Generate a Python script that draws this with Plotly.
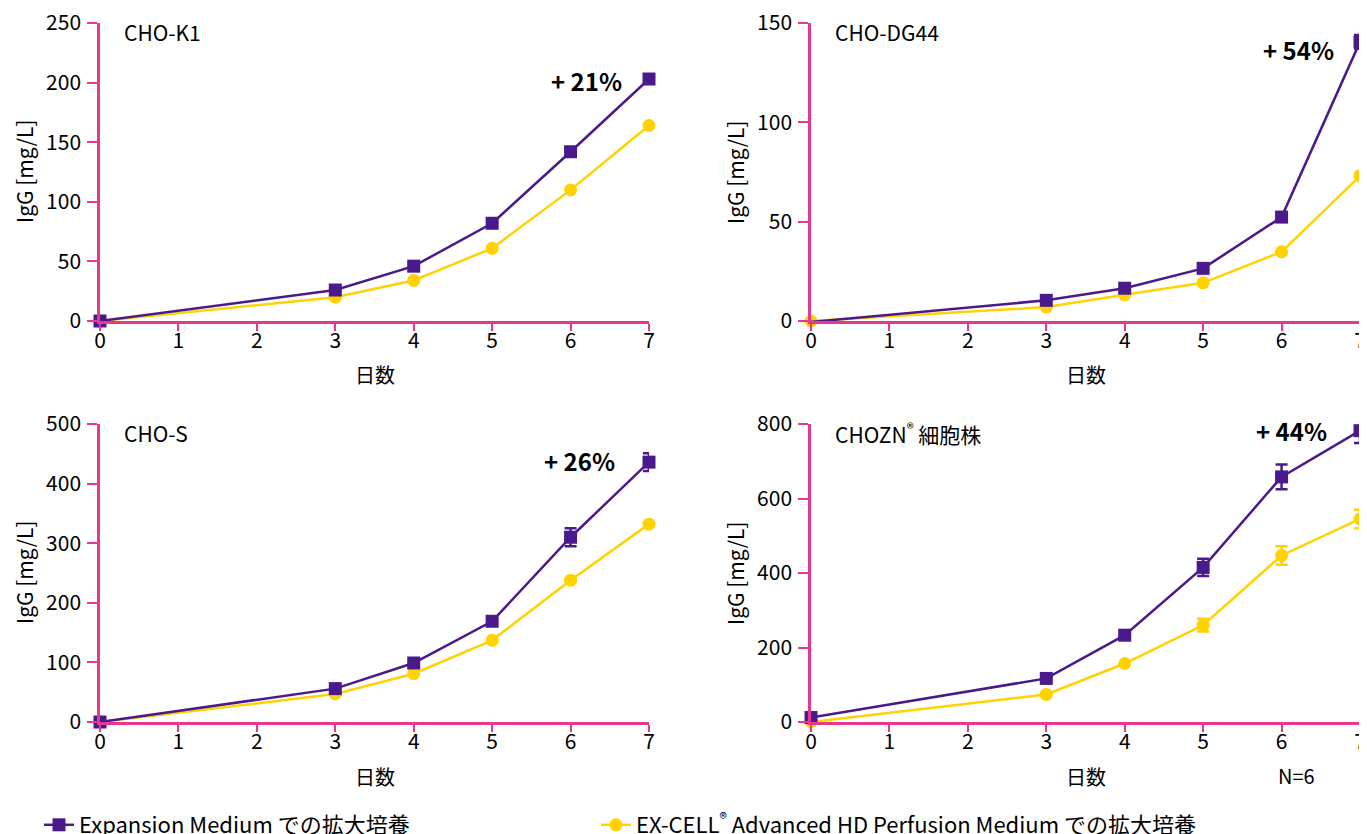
import plotly.graph_objects as go

days = [0, 3, 4, 5, 6, 7]
x_ticks = [0, 1, 2, 3, 4, 5, 6, 7]

panel_titles = ["CHO-K1", "CHO-DG44", "CHO-S", "CHOZN<sup>®</sup> 細胞株"]
gain_labels = ["+ 21%", "+ 54%", "+ 26%", "+ 44%"]

k1_expansion = [0, 26, 46, 82, 142, 203]
k1_excell = [0, 20, 34, 61, 110, 164]
k1_expansion_err = [0, 0, 0, 0, 0, 0]
k1_excell_err = [0, 0, 0, 0, 0, 0]

dg44_expansion = [-0.5, 10.4, 16.5, 26.5, 52.3, 140.5]
dg44_excell = [0, 7, 13.2, 19.2, 34.8, 73]
dg44_expansion_err = [0, 0, 0, 0, 0, 3.5]
dg44_excell_err = [0, 0, 0, 0, 0, 0]

chos_expansion = [0, 56, 99, 169, 310, 436]
chos_excell = [0, 47, 81, 137, 238, 332]
chos_expansion_err = [0, 0, 0, 0, 15, 15]
chos_excell_err = [0, 0, 0, 0, 0, 0]

chozn_expansion = [12, 117, 233, 415, 658, 782]
chozn_excell = [0, 74, 157, 260, 447, 545]
chozn_expansion_err = [0, 0, 0, 23, 33, 33]
chozn_excell_err = [0, 0, 0, 17, 25, 25]

y_ranges = [[0, 250], [0, 150], [0, 500], [0, 800]]
y_dticks = [50, 50, 100, 200]

legend_names = ["Expansion Medium での拡大培養",
                "EX-CELL<sup>®</sup> Advanced HD Perfusion Medium での拡大培養"]

PURPLE = "#4a1a8c"
YELLOW = "#ffd200"
PINK = "#e8378e"
FONT = "Noto Sans CJK JP"

W, H = 1367, 834
OFF = 8  # page body margin


def px(xs):
    return (xs - OFF) / W


def py(ys):
    return 1 - (ys - OFF) / H


# plot-area geometry in screen pixels (left, right, top, bottom)
areas = [
    (100, 649, 23, 321),
    (811, 1360, 23, 321),
    (100, 649, 424, 722),
    (811, 1360, 424, 722),
]

panels = [
    (k1_expansion, k1_expansion_err, k1_excell, k1_excell_err),
    (dg44_expansion, dg44_expansion_err, dg44_excell, dg44_excell_err),
    (chos_expansion, chos_expansion_err, chos_excell, chos_excell_err),
    (chozn_expansion, chozn_expansion_err, chozn_excell, chozn_excell_err),
]

fig = go.Figure()
layout = dict()
annotations = []

for i, (area, data) in enumerate(zip(areas, panels)):
    l, r, t, b = area
    xa = "xaxis" if i == 0 else f"xaxis{i+1}"
    ya = "yaxis" if i == 0 else f"yaxis{i+1}"
    xref = "x" if i == 0 else f"x{i+1}"
    yref = "y" if i == 0 else f"y{i+1}"
    exp_v, exp_e, exc_v, exc_e = data

    fig.add_trace(go.Scatter(
        x=days, y=exc_v, xaxis=xref, yaxis=yref,
        mode="lines+markers", name=legend_names[1], legend="legend2",
        showlegend=(i == 0),
        line=dict(color=YELLOW, width=2.5),
        marker=dict(symbol="circle", size=13, color=YELLOW),
        error_y=dict(type="data", array=exc_e, visible=True, color=YELLOW,
                     thickness=2.5, width=6),
        cliponaxis=False,
    ))
    fig.add_trace(go.Scatter(
        x=days, y=exp_v, xaxis=xref, yaxis=yref,
        mode="lines+markers", name=legend_names[0], legend="legend",
        showlegend=(i == 0),
        line=dict(color=PURPLE, width=2.5),
        marker=dict(symbol="square", size=13, color=PURPLE),
        error_y=dict(type="data", array=exp_e, visible=True, color=PURPLE,
                     thickness=2.5, width=6),
        cliponaxis=False,
    ))

    layout[xa] = dict(
        domain=[px(l), px(r)], anchor=yref, range=[0, 7],
        tickvals=x_ticks, ticks="outside", ticklen=7, tickwidth=2,
        tickcolor=PINK, showline=True, linecolor=PINK, linewidth=2.5,
        showgrid=False, zeroline=False, automargin=False,
        ticklabelstandoff=-8, ticklabeloverflow="allow",
        tickfont=dict(family=FONT, size=21, color="black"),
    )
    layout[ya] = dict(
        domain=[py(b), py(t)], anchor=xref, range=y_ranges[i],
        dtick=y_dticks[i], ticks="outside", ticklen=10, tickwidth=2,
        tickcolor=PINK, showline=True, linecolor=PINK, linewidth=2.5,
        showgrid=False, zeroline=False, automargin=False,
        ticklabelstandoff=2, ticklabeloverflow="allow",
        tickfont=dict(family=FONT, size=21, color="black"),
    )

    # panel title
    annotations.append(dict(
        text=panel_titles[i], xref="paper", yref="paper",
        x=px(l + 22), y=py(t + 9), xanchor="left", yanchor="middle",
        showarrow=False, font=dict(family=FONT, size=21, color="black"),
    ))
    # y-axis title
    annotations.append(dict(
        text="IgG [mg/L]", xref="paper", yref="paper",
        x=px(l - 76), y=py((t + b) / 2), xanchor="center",
        yanchor="middle", textangle=-90, showarrow=False,
        font=dict(family=FONT, size=21, color="black"),
    ))
    # x-axis title
    annotations.append(dict(
        text="日数", xref="paper", yref="paper",
        x=px(l + 275), y=py(b + 54), xanchor="center",
        yanchor="middle", showarrow=False,
        font=dict(family=FONT, size=20, color="black"),
    ))

gain_pos = [(586, 80), (1298, 49), (579, 461), (1291, 431)]
for (gx, gy), txt in zip(gain_pos, gain_labels):
    annotations.append(dict(
        text=f"<b>{txt}</b>", xref="paper", yref="paper",
        x=px(gx), y=py(gy), xanchor="center", yanchor="middle",
        showarrow=False, font=dict(family=FONT, size=24, color="black"),
    ))

annotations.append(dict(
    text="N=6", xref="paper", yref="paper",
    x=px(1296), y=py(775), xanchor="center", yanchor="middle",
    showarrow=False, font=dict(family=FONT, size=20, color="black"),
))

legend_common = dict(
    orientation="h", xanchor="left", yanchor="middle",
    font=dict(family=FONT, size=22, color="black"),
    bgcolor="rgba(0,0,0,0)",
)

fig.update_layout(
    **layout,
    annotations=annotations,
    width=W, height=H,
    margin=dict(l=0, r=0, t=0, b=0, autoexpand=False),
    paper_bgcolor="white", plot_bgcolor="white",
    font=dict(family=FONT, color="black"),
    legend=dict(x=px(39), y=py(825), **legend_common),
    legend2=dict(x=px(596), y=py(825), **legend_common),
)

fig.write_html("out.html")
